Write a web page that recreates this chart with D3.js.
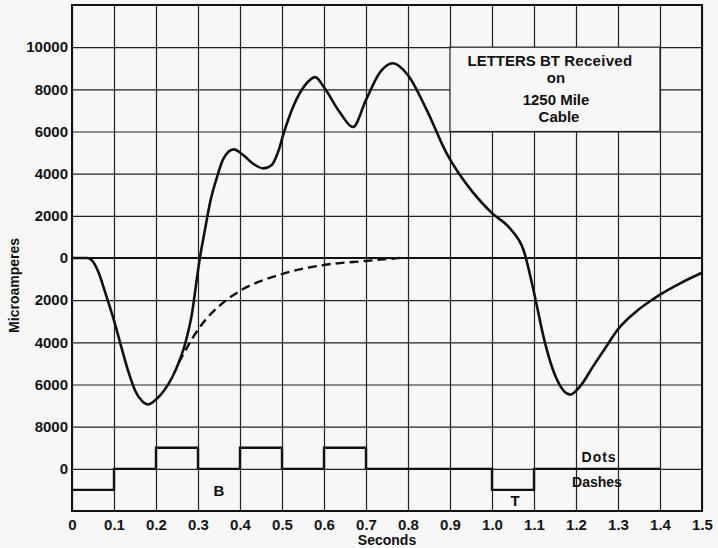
<!DOCTYPE html>
<html>
<head>
<meta charset="utf-8">
<script src="https://cdn.jsdelivr.net/npm/d3@7"></script>
<style>
  html, body { margin: 0; padding: 0; background: #f7f7f7; }
  svg { display: block; font-family: "Liberation Sans", Arial, sans-serif; }
  .grid line { stroke: #222; stroke-width: 1.2; }
  .grid path { display: none; }
  .axis path, .axis line { display: none; }
  .axis text { font-size: 15px; font-weight: bold; fill: #151515; font-family: "Liberation Sans", Arial, sans-serif; }
</style>
</head>
<body>
<svg id="chart"></svg>
<script>
// time axis
const xTickValues = [0, 0.1, 0.2, 0.3, 0.4, 0.5, 0.6, 0.7, 0.8, 0.9, 1.0, 1.1, 1.2, 1.3, 1.4, 1.5];
const xTickLabels = ['0', '0.1', '0.2', '0.3', '0.4', '0.5', '0.6', '0.7', '0.8', '0.9', '1.0', '1.1', '1.2', '1.3', '1.4', '1.5'];

// current axis (negative half is printed without sign; last "0" is the signal baseline)
const yGridValues = [12000, 10000, 8000, 6000, 4000, 2000, 0, -2000, -4000, -6000, -8000, -10000, -12000];
const yTickValues = [10000, 8000, 6000, 4000, 2000, 0, -2000, -4000, -6000, -8000, -10000];
const yTickLabels = ['10000', '8000', '6000', '4000', '2000', '0', '2000', '4000', '6000', '8000', '0'];

// received current, solid curve
const recvTime = [0, 0.036, 0.048, 0.063, 0.079, 0.099, 0.119, 0.135, 0.151, 0.167, 0.181, 0.198, 0.218,
  0.238, 0.254, 0.27, 0.286, 0.295, 0.303, 0.317, 0.329, 0.344, 0.36, 0.385, 0.408, 0.432, 0.456,
  0.475, 0.491, 0.503, 0.527, 0.555, 0.579, 0.6, 0.638, 0.669, 0.7, 0.733, 0.764, 0.8, 0.845, 0.892,
  0.955, 1.0, 1.043, 1.075, 1.104, 1.122, 1.154, 1.186, 1.21, 1.241, 1.273, 1.3, 1.345, 1.384, 1.4,
  1.448, 1.5];
const recvCurrent = [0, 0, -130, -680, -1630, -2900, -4330, -5440, -6320, -6790, -6950, -6750, -6320,
  -5680, -4970, -4020, -2590, -1320, -190, 1390, 2650, 3750, 4690, 5150, 4880, 4460, 4250,
  4400, 5050, 5850, 7200, 8200, 8580, 8100, 6900, 6210, 7500, 8800, 9240, 8670, 7000, 4960,
  3100, 2130, 1400, 380, -2000, -3680, -5740, -6480, -6080, -5130, -4170, -3380, -2510, -1950, -1740,
  -1200, -700];

// dashed curve (arrival curve of B's first dot alone)
const dashTime = [0.254, 0.3, 0.368, 0.4, 0.5, 0.6, 0.7, 0.78];
const dashCurrent = [-4970, -3400, -1990, -1560, -760, -330, -140, 0];

// sent signal: level per interval (+1 dot, -1 dash, 0 rest)
const signalTimes  = [0, 0.1, 0.2, 0.3, 0.4, 0.5, 0.6, 0.7, 1.0, 1.1, 1.4];
const signalLevels = [-1, 0, 1, 0, 1, 0, 1, 0, -1, 0, 0];
const SIGNAL_BASE = -10000;
const SIGNAL_STEP = 1000;

const titleLines = ['on', '1250 Mile', 'Cable'];

const SVG_W = 718;
const SVG_H = 548;
const MARGIN = { top: 5, right: 16, bottom: 37, left: 72 };
const W = SVG_W - MARGIN.left - MARGIN.right;
const H = SVG_H - MARGIN.top - MARGIN.bottom;

const xScale = d3.scaleLinear().domain([0, 1.5]).range([0, W]);
const yScale = d3.scaleLinear().domain([-12000, 12000]).range([H, 0]);

const svg = d3.select('#chart')
  .attr('width', SVG_W)
  .attr('height', SVG_H)
  .attr('viewBox', `0 0 ${SVG_W} ${SVG_H}`);

const g = svg.append('g')
  .attr('transform', `translate(${MARGIN.left},${MARGIN.top})`);

// grid
g.append('g').attr('class', 'grid')
  .attr('transform', `translate(0,${H})`)
  .call(d3.axisBottom(xScale).tickValues(xTickValues).tickSize(-H).tickFormat(''));

g.append('g').attr('class', 'grid')
  .call(d3.axisLeft(yScale).tickValues(yGridValues).tickSize(-W).tickFormat(''));

// zero line
g.append('line')
  .attr('x1', xScale(0)).attr('x2', xScale(1.5))
  .attr('y1', yScale(0)).attr('y2', yScale(0))
  .attr('stroke', '#111').attr('stroke-width', 2.2);

// border
g.append('rect')
  .attr('x', 0).attr('y', 0)
  .attr('width', W).attr('height', H)
  .attr('fill', 'none').attr('stroke', '#111').attr('stroke-width', 2);

// text box
const boxX0 = xScale(0.9), boxX1 = xScale(1.4);
const boxY0 = yScale(10000), boxY1 = yScale(6000);
g.append('rect')
  .attr('x', boxX0).attr('y', boxY0)
  .attr('width', boxX1 - boxX0).attr('height', boxY1 - boxY0)
  .attr('fill', '#f7f7f7').attr('stroke', '#222').attr('stroke-width', 1.2);

const boxCx = (boxX0 + boxX1) / 2;
const t1 = g.append('text')
  .attr('x', boxCx - 5).attr('y', boxY0 + 18.5)
  .attr('text-anchor', 'middle')
  .attr('font-size', 15).attr('fill', '#111');
t1.append('tspan').attr('font-weight', 'bold').text('LETTERS BT ');
t1.append('tspan').attr('font-weight', 'bold').attr('letter-spacing', 0.3).text('Received');

[boxY0 + 35.5, boxY0 + 57.5, boxY0 + 74.5].forEach((yy, i) => {
  g.append('text')
    .attr('x', boxCx + 1 + (i === 2 ? 3 : 0)).attr('y', yy)
    .attr('text-anchor', 'middle')
    .attr('font-size', 15).attr('font-weight', 'bold').attr('fill', '#111')
    .text(titleLines[i]);
});

// sent signal
const sigData = signalTimes.map((t, i) => ({ t, v: SIGNAL_BASE + signalLevels[i] * SIGNAL_STEP }));
g.append('path')
  .datum(sigData)
  .attr('fill', 'none').attr('stroke', '#111').attr('stroke-width', 2.4)
  .attr('d', d3.line().x(d => xScale(d.t)).y(d => yScale(d.v)).curve(d3.curveStepAfter));

// dashed curve
const dashData = dashTime.map((t, i) => ({ t, v: dashCurrent[i] }));
g.append('path')
  .datum(dashData)
  .attr('fill', 'none').attr('stroke', '#111').attr('stroke-width', 2.4)
  .attr('stroke-dasharray', '9,5')
  .attr('d', d3.line().x(d => xScale(d.t)).y(d => yScale(d.v)).curve(d3.curveMonotoneX));

// received current
const recvData = recvTime.map((t, i) => ({ t, v: recvCurrent[i] }));
g.append('path')
  .datum(recvData)
  .attr('fill', 'none').attr('stroke', '#111').attr('stroke-width', 2.6)
  .attr('stroke-linejoin', 'round')
  .attr('d', d3.line().x(d => xScale(d.t)).y(d => yScale(d.v)).curve(d3.curveMonotoneX));

// signal labels
const sigLabels = [
  { text: 'B', t: 0.35, v: -11000, dy: 6 },
  { text: 'T', t: 1.055, v: -11500, dy: 6 },
  { text: 'Dots', t: 1.255, v: -9400, dy: 6 },
  { text: 'Dashes', t: 1.25, v: -10600, dy: 6 }
];
sigLabels.forEach(d => {
  g.append('text')
    .attr('x', xScale(d.t)).attr('y', yScale(d.v) + d.dy)
    .attr('text-anchor', 'middle')
    .attr('font-size', d.text.length > 1 ? 14 : 15).attr('font-weight', 'bold').attr('fill', '#111')
    .attr('letter-spacing', d.text === 'Dots' ? 1 : 0)
    .text(d.text);
});

// axes labels
g.append('g').attr('class', 'axis')
  .attr('transform', `translate(0,${H})`)
  .call(d3.axisBottom(xScale).tickValues(xTickValues).tickSize(0).tickPadding(8)
    .tickFormat((d, i) => xTickLabels[i]));

g.append('g').attr('class', 'axis')
  .call(d3.axisLeft(yScale).tickValues(yTickValues).tickSize(0).tickPadding(4)
    .tickFormat((d, i) => yTickLabels[i]));

svg.append('text')
  .attr('x', MARGIN.left + xScale(0.75)).attr('y', 545)
  .attr('text-anchor', 'middle')
  .attr('font-size', 14).attr('font-weight', 'bold').attr('fill', '#111')
  .text('Seconds');

svg.append('text')
  .attr('transform', `translate(19,${MARGIN.top + yScale(-1300)}) rotate(-90)`)
  .attr('text-anchor', 'middle')
  .attr('font-size', 14).attr('font-weight', 'bold').attr('fill', '#111')
  .text('Microamperes');
</script>
</body>
</html>
